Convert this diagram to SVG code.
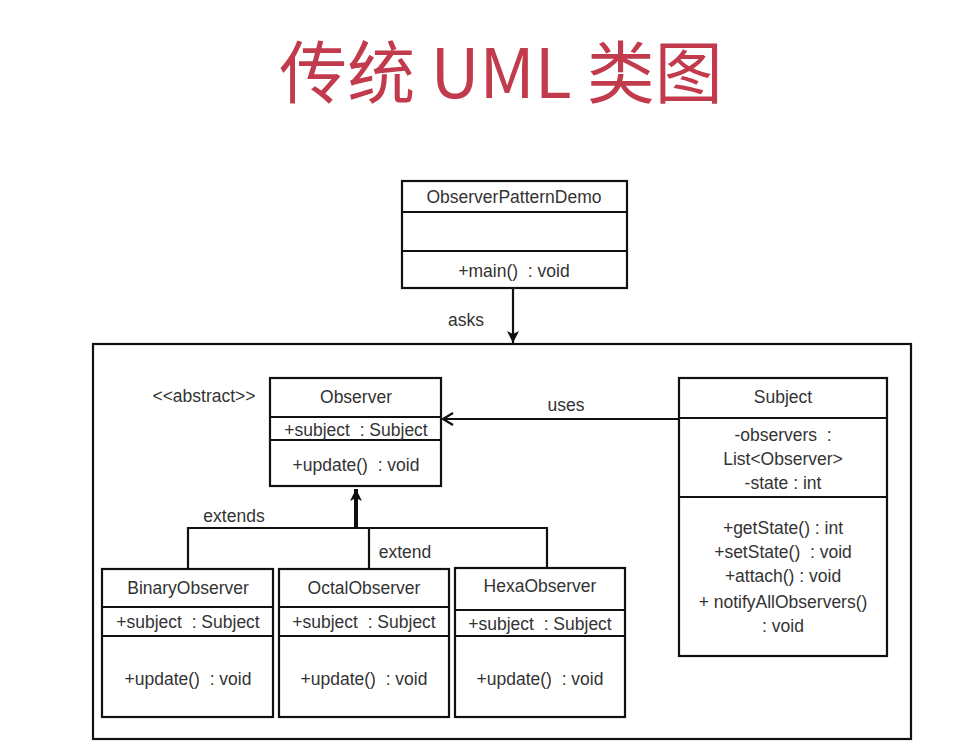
<svg xmlns="http://www.w3.org/2000/svg" width="960" height="752" viewBox="0 0 960 752">
<style>
.box{fill:#fff;stroke:#111;stroke-width:2.2}
.ln{stroke:#111;stroke-width:2.2;fill:none}
.t{font-family:"Liberation Sans","Noto Sans",sans-serif;font-size:17.5px;fill:#333;text-anchor:middle;white-space:pre}
.title{font-family:"Noto Sans CJK SC","Noto Sans",sans-serif;font-size:68px;fill:#c23b4d;text-anchor:middle;white-space:pre}
</style>
<defs>
<marker id="open" markerWidth="14" markerHeight="14" refX="11" refY="7" orient="auto" markerUnits="userSpaceOnUse">
<path d="M1,1 L11,7 L1,13" fill="none" stroke="#111" stroke-width="2.2"/>
</marker>
<marker id="solid" markerWidth="14" markerHeight="14" refX="12" refY="7" orient="auto" markerUnits="userSpaceOnUse">
<path d="M0,1 L12,7 L0,13 L3,7 Z" fill="#111"/>
</marker>
</defs>
<rect width="960" height="752" fill="#fff"/>
<text class="title" x="501" y="98" xml:space="preserve">传统 UML 类图</text>

<g id="container">
<rect class="box" x="93" y="344" width="818" height="395" fill="none"/>
</g>

<g id="ObserverPatternDemo">
<rect class="box" x="402" y="181" width="225" height="107"/>
<line class="ln" x1="402" y1="212" x2="627" y2="212"/>
<line class="ln" x1="402" y1="251" x2="627" y2="251"/>
<text class="t" x="514" y="203">ObserverPatternDemo</text>
<text class="t" x="514" y="277" xml:space="preserve">+main()  : void</text>
</g>

<g id="Observer">
<rect class="box" x="270" y="378" width="171" height="108"/>
<line class="ln" x1="270" y1="417" x2="441" y2="417"/>
<line class="ln" x1="270" y1="440" x2="441" y2="440"/>
<text class="t" x="356" y="403">Observer</text>
<text class="t" x="356" y="436" xml:space="preserve">+subject  : Subject</text>
<text class="t" x="356" y="471" xml:space="preserve">+update()  : void</text>
<text class="t" x="204" y="402">&lt;&lt;abstract&gt;&gt;</text>
</g>

<g id="Subject">
<rect class="box" x="679" y="378" width="208" height="278"/>
<line class="ln" x1="679" y1="418" x2="887" y2="418"/>
<line class="ln" x1="679" y1="497" x2="887" y2="497"/>
<text class="t" x="783" y="403">Subject</text>
<text class="t" x="783" y="441" xml:space="preserve">-observers  :</text>
<text class="t" x="783" y="465">List&lt;Observer&gt;</text>
<text class="t" x="783" y="489">-state : int</text>
<text class="t" x="783" y="534">+getState() : int</text>
<text class="t" x="783" y="558" xml:space="preserve">+setState()  : void</text>
<text class="t" x="783" y="582">+attach() : void</text>
<text class="t" x="783" y="608">+ notifyAllObservers()</text>
<text class="t" x="783" y="632">: void</text>
</g>

<g id="BinaryObserver">
<rect class="box" x="102" y="569" width="171" height="148"/>
<line class="ln" x1="102" y1="607" x2="273" y2="607"/>
<line class="ln" x1="102" y1="636" x2="273" y2="636"/>
<text class="t" x="188" y="594">BinaryObserver</text>
<text class="t" x="188" y="628" xml:space="preserve">+subject  : Subject</text>
<text class="t" x="188" y="685" xml:space="preserve">+update()  : void</text>
</g>

<g id="OctalObserver">
<rect class="box" x="279" y="569" width="170" height="148"/>
<line class="ln" x1="279" y1="607" x2="449" y2="607"/>
<line class="ln" x1="279" y1="636" x2="449" y2="636"/>
<text class="t" x="364" y="594">OctalObserver</text>
<text class="t" x="364" y="628" xml:space="preserve">+subject  : Subject</text>
<text class="t" x="364" y="685" xml:space="preserve">+update()  : void</text>
</g>

<g id="HexaObserver">
<rect class="box" x="455" y="568" width="170" height="149"/>
<line class="ln" x1="455" y1="610" x2="625" y2="610"/>
<line class="ln" x1="455" y1="636" x2="625" y2="636"/>
<text class="t" x="540" y="592">HexaObserver</text>
<text class="t" x="540" y="630" xml:space="preserve">+subject  : Subject</text>
<text class="t" x="540" y="685" xml:space="preserve">+update()  : void</text>
</g>

<g id="connectors">
<line class="ln" x1="513" y1="289" x2="513" y2="343" marker-end="url(#solid)"/>
<text class="t" x="466" y="326">asks</text>
<line class="ln" x1="679" y1="419" x2="443" y2="419" marker-end="url(#open)"/>
<text class="t" x="566" y="411">uses</text>
<line x1="356" y1="528" x2="356" y2="489" stroke="#111" stroke-width="4" marker-end="url(#solid)"/>
<polyline class="ln" points="188,569 188,528 547,528 547,568"/>
<line class="ln" x1="369" y1="528" x2="369" y2="569"/>
<text class="t" x="234" y="522">extends</text>
<text class="t" x="405" y="558">extend</text>
</g>
</svg>
